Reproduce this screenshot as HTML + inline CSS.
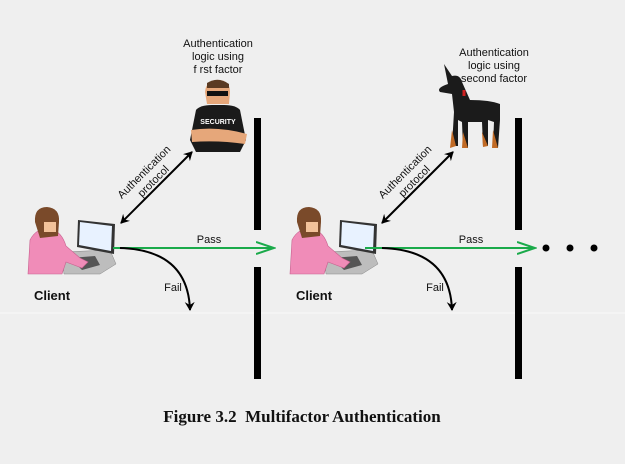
<!DOCTYPE html>
<html><head><style>
html,body{margin:0;padding:0;background:#efefef;}
svg{display:block;}
</style></head><body>
<svg width="625" height="464" viewBox="0 0 625 464" xmlns="http://www.w3.org/2000/svg" font-family="Liberation Sans, sans-serif">
<defs>
<marker id="ah" markerWidth="10" markerHeight="10" refX="8" refY="5" orient="auto" markerUnits="userSpaceOnUse">
<path d="M0,0 L9,5 L0,10 L3,5 Z" fill="#000"/>
</marker>
<marker id="ahs" markerWidth="10" markerHeight="10" refX="8" refY="5" orient="auto-start-reverse" markerUnits="userSpaceOnUse">
<path d="M0,0 L9,5 L0,10 L3,5 Z" fill="#000"/>
</marker>
<marker id="gh" markerWidth="20" markerHeight="14" refX="18" refY="7" orient="auto" markerUnits="userSpaceOnUse">
<path d="M0,1 L18,7 L0,13" fill="none" stroke="#1aaa4a" stroke-width="2"/>
</marker>
<g id="client">
<path d="M62,252 L110,250 L116,264 L100,274 L64,274 Z" fill="#bdbdbd" stroke="#888" stroke-width="0.5"/>
<path d="M70,258 L95,256 L100,265 L82,270 Z" fill="#555"/>
<path d="M78,220 L115,224 L114,254 L77,247 Z" fill="#333"/>
<path d="M80,222 L112,226 L111,251 L79,245 Z" fill="#e8f2ff"/>
<path d="M30,240 Q36,228 50,228 Q62,232 66,246 L80,258 L88,262 L82,268 L66,262 L62,274 L28,274 Z" fill="#f08cb8" stroke="#c8608f" stroke-width="0.6"/>
<path d="M35,222 Q34,207 47,207 Q60,208 59,222 L58,236 L40,238 Z" fill="#7a4a2a"/>
<rect x="44" y="222" width="12" height="10" fill="#f2c29a"/>
</g>
</defs>
<line x1="0" y1="313" x2="625" y2="313" stroke="#fafafa" stroke-width="1"/>
<rect x="254" y="118" width="7" height="112" fill="#000"/>
<rect x="254" y="267" width="7" height="112" fill="#000"/>
<rect x="515" y="118" width="7" height="112" fill="#000"/>
<rect x="515" y="267" width="7" height="112" fill="#000"/>
<use href="#client"/>
<use href="#client" transform="translate(262,0)"/>
<!-- guard -->
<g>
<path d="M205,92 Q206,80 218,80 Q230,80 230,92 L229,104 L207,104 Z" fill="#e6a77a"/>
<rect x="207" y="91" width="21" height="5" fill="#111"/>
<path d="M207,83 Q218,76 229,84 L229,88 L207,88 Z" fill="#5a3a22"/>
<path d="M196,110 Q200,105 212,105 L224,105 Q236,105 240,110 L246,140 L240,152 L196,152 L190,140 Z" fill="#1a1a1a"/>
<text x="218" y="124" font-size="7" font-weight="bold" fill="#fff" text-anchor="middle">SECURITY</text>
<path d="M191,130 Q218,126 247,134 L245,144 Q218,140 192,142 Z" fill="#e6a77a"/>
</g>
<!-- dog -->
<g fill="#1b1b1b">
<path d="M448,84 L444,64 L452,76 Q460,74 462,82 L470,100 Q490,100 500,104 L500,120 L498,148 L493,148 L494,122 L488,120 L488,146 L483,146 L482,122 L468,122 L468,148 L463,148 L462,122 L458,120 L458,146 L452,146 L454,112 L452,94 L440,92 Q436,88 448,84 Z"/>
<path d="M464,90 L464,96" stroke="#d02020" stroke-width="3"/>
<path d="M452,130 L456,146 L450,148 Z M463,132 L468,148 L462,148 Z M482,132 L488,146 L483,147 Z M493,130 L498,148 L492,148 Z" fill="#c06a25"/>
</g>
<g font-size="11" text-anchor="middle" fill="#111">
<text x="218" y="47">Authentication</text>
<text x="218" y="60">logic using</text>
<text x="218" y="73">f rst factor</text>
<text x="494" y="56">Authentication</text>
<text x="494" y="69">logic using</text>
<text x="494" y="82">second factor</text>
<text x="209" y="243">Pass</text>
<text x="471" y="243">Pass</text>
<text x="173" y="291">Fail</text>
<text x="435" y="291">Fail</text>
</g>
<g font-size="11" text-anchor="middle" fill="#111">
<text transform="translate(148,176) rotate(-45)"><tspan x="0" y="-2">Authentication</tspan><tspan x="0" y="11">protocol</tspan></text>
<text transform="translate(409,176) rotate(-45)"><tspan x="0" y="-2">Authentication</tspan><tspan x="0" y="11">protocol</tspan></text>
</g>
<g font-size="13" font-weight="bold" fill="#111" text-anchor="middle">
<text x="52" y="300">Client</text>
<text x="314" y="300">Client</text>
</g>
<line x1="121" y1="223" x2="192" y2="152" stroke="#000" stroke-width="2" marker-start="url(#ahs)" marker-end="url(#ah)"/>
<line x1="382" y1="223" x2="453" y2="152" stroke="#000" stroke-width="2" marker-start="url(#ahs)" marker-end="url(#ah)"/>
<line x1="113" y1="248" x2="274" y2="248" stroke="#1aaa4a" stroke-width="2" marker-end="url(#gh)"/>
<line x1="365" y1="248" x2="535" y2="248" stroke="#1aaa4a" stroke-width="2" marker-end="url(#gh)"/>
<path d="M120,248 Q188,250 190,310" fill="none" stroke="#000" stroke-width="2" marker-end="url(#ah)"/>
<path d="M382,248 Q450,250 452,310" fill="none" stroke="#000" stroke-width="2" marker-end="url(#ah)"/>
<circle cx="546" cy="248" r="3.5" fill="#000"/>
<circle cx="570" cy="248" r="3.5" fill="#000"/>
<circle cx="594" cy="248" r="3.5" fill="#000"/>
<text x="302" y="422" font-family="Liberation Serif, serif" font-size="17" font-weight="bold" text-anchor="middle" fill="#111">Figure 3.2&#160; Multifactor Authentication</text>
</svg>
</body></html>
